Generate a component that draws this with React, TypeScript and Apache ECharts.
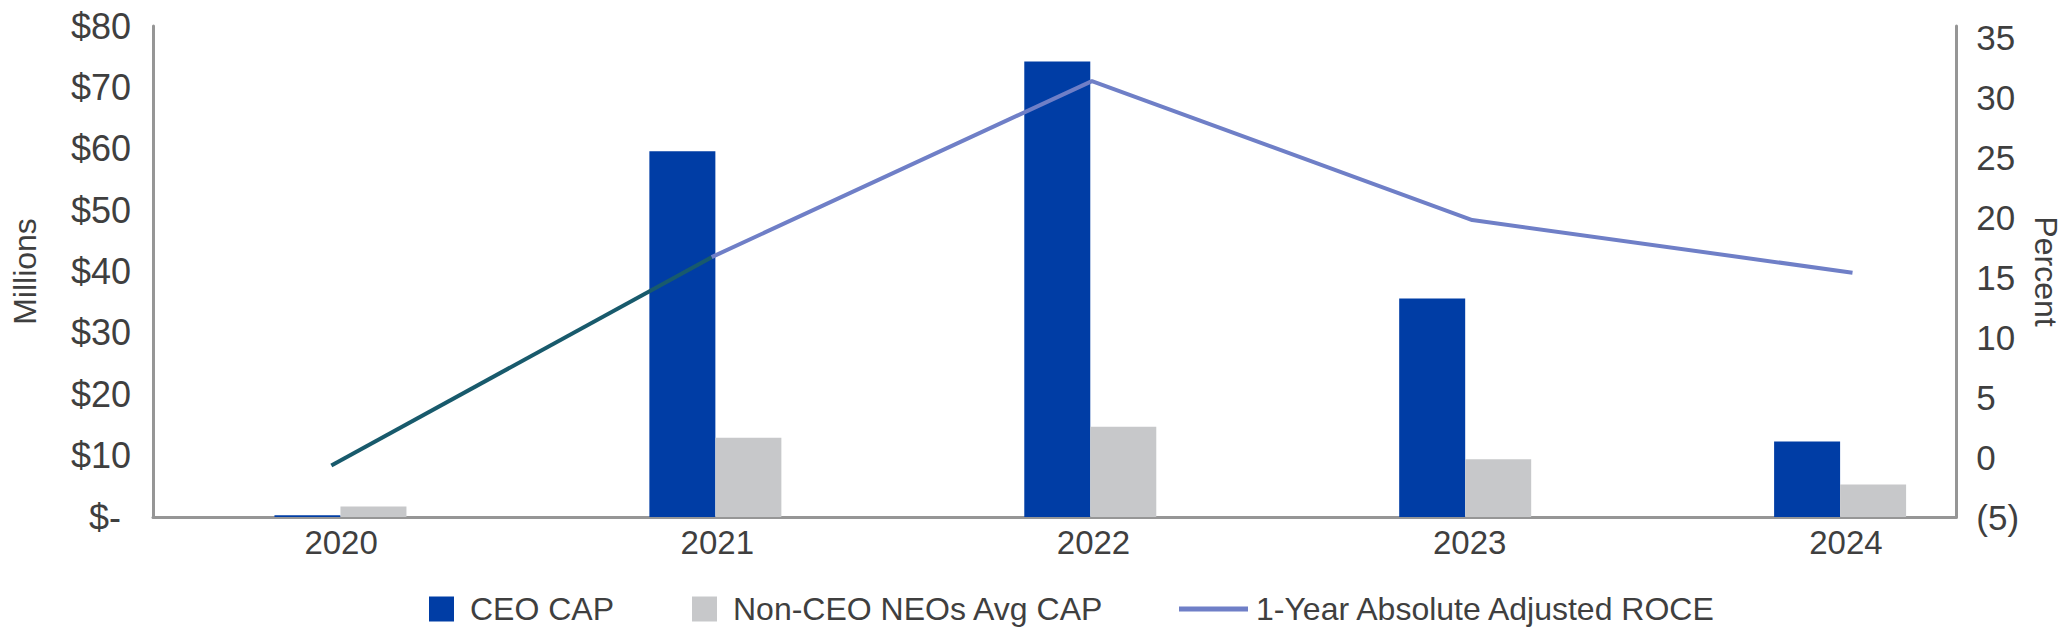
import React, { useEffect, useRef } from "react";
import * as echarts from "echarts";

const years = ["2020", "2021", "2022", "2023", "2024"];
const ceoCap = [0.3, 59.6, 74.2, 35.6, 12.3];
const nonCeoCap = [1.7, 12.9, 14.7, 9.4, 5.3];
const roce = [-0.7, 16.7, 31.4, 19.8, 15.4];

const FONT = "'Liberation Sans', Arial, sans-serif";
const TEXT = "#3f3f3f";
const AXIS = "#969696";
const CEO_COLOR = "#003DA5";
const NEO_COLOR = "#C7C8CA";
const ROCE_COLOR = "#6F7FC7";
const ROCE_EARLY = "#185A6C";

export default function App() {
  const ref = useRef<HTMLDivElement>(null);

  useEffect(() => {
    if (!ref.current) return;
    const chart = echarts.init(ref.current, undefined, { renderer: "svg" });

    const ceoData = ceoCap.map((v, i) => [i, v]);
    const neoData = nonCeoCap.map((v, i) => [i, v]);
    const roceEarly = roce.slice(0, 2).map((v, i) => [i, v]);
    const roceLate = roce.map((v, i) => [i, v]).slice(1);

    const legendText = {
      fontFamily: FONT,
      fontSize: 32,
      color: TEXT,
      lineHeight: 32,
    };

    chart.setOption({
      animation: false,
      backgroundColor: "#ffffff",
      grid: [
        { left: 153, top: 26, width: 1810, height: 491 },
        { left: 153, top: 26, width: 1881, height: 491 },
      ],
      legend: [
        {
          data: ["CEO CAP"],
          left: 429,
          top: 593,
          padding: 0,
          itemWidth: 25,
          itemHeight: 25,
          icon: "rect",
          textStyle: { ...legendText, padding: [0, 0, 0, 11] },
        },
        {
          data: ["Non-CEO NEOs Avg CAP"],
          left: 692,
          top: 593,
          padding: 0,
          itemWidth: 25,
          itemHeight: 25,
          icon: "rect",
          textStyle: { ...legendText, padding: [0, 0, 0, 11] },
        },
        {
          data: ["1-Year Absolute Adjusted ROCE"],
          left: 1179,
          top: 593,
          padding: 0,
          itemWidth: 69,
          itemHeight: 5,
          icon: "rect",
          textStyle: { ...legendText, padding: [0, 0, 0, 3] },
        },
      ],
      xAxis: [
        {
          type: "value",
          gridIndex: 0,
          min: -0.5,
          max: 4.31,
          axisLine: { show: true, onZero: false, lineStyle: { color: AXIS, width: 3 } },
          axisTick: { show: false },
          axisLabel: { show: false },
          splitLine: { show: false },
        },
        {
          type: "category",
          gridIndex: 1,
          data: years,
          boundaryGap: true,
          axisLine: { show: false },
          axisTick: { show: false },
          axisLabel: {
            fontFamily: FONT,
            fontSize: 33,
            color: TEXT,
            margin: 9,
          },
          splitLine: { show: false },
        },
        {
          type: "value",
          gridIndex: 0,
          min: -0.469,
          max: 4.273,
          show: false,
          splitLine: { show: false },
        },
      ],
      yAxis: [
        {
          type: "value",
          gridIndex: 0,
          position: "left",
          min: 0,
          max: 80,
          interval: 10,
          name: "Millions",
          nameLocation: "middle",
          nameGap: 112,
          nameTextStyle: { fontFamily: FONT, fontSize: 32, color: TEXT },
          axisLine: { show: true, onZero: false, lineStyle: { color: AXIS, width: 3 } },
          axisTick: { show: false },
          splitLine: { show: false },
          axisLabel: {
            fontFamily: FONT,
            fontSize: 36,
            color: TEXT,
            margin: 22,
            formatter: (v: number) => (v === 0 ? "$-\u00a0" : "$" + v),
          },
        },
        {
          type: "value",
          gridIndex: 0,
          position: "right",
          min: -5,
          max: 36,
          interval: 5,
          name: "Percent",
          nameLocation: "middle",
          nameGap: 72,
          nameRotate: -90,
          nameTextStyle: { fontFamily: FONT, fontSize: 32, color: TEXT },
          axisLine: { show: true, onZero: false, lineStyle: { color: AXIS, width: 3 } },
          axisTick: { show: false },
          splitLine: { show: false },
          axisLabel: {
            fontFamily: FONT,
            fontSize: 35,
            color: TEXT,
            margin: 20,
            showMaxLabel: false,
            formatter: (v: number) => (v < 0 ? "(" + -v + ")" : String(v)),
          },
        },
        {
          type: "value",
          gridIndex: 1,
          show: false,
          min: 0,
          max: 1,
        },
      ],
      series: [
        {
          name: "CEO CAP",
          type: "bar",
          xAxisIndex: 0,
          yAxisIndex: 0,
          barWidth: 66,
          barGap: "0%",
          itemStyle: { color: CEO_COLOR },
          data: ceoData,
        },
        {
          name: "Non-CEO NEOs Avg CAP",
          type: "bar",
          xAxisIndex: 0,
          yAxisIndex: 0,
          barWidth: 66,
          barGap: "0%",
          itemStyle: { color: NEO_COLOR },
          data: neoData,
        },
        {
          name: "ROCE early",
          type: "line",
          xAxisIndex: 2,
          yAxisIndex: 1,
          symbol: "none",
          lineStyle: { color: ROCE_EARLY, width: 4 },
          itemStyle: { color: ROCE_EARLY },
          data: roceEarly,
          z: 3,
        },
        {
          name: "1-Year Absolute Adjusted ROCE",
          type: "line",
          xAxisIndex: 2,
          yAxisIndex: 1,
          symbol: "none",
          lineStyle: { color: ROCE_COLOR, width: 4 },
          itemStyle: { color: ROCE_COLOR },
          data: roceLate,
          z: 3,
        },
      ],
    });

    return () => chart.dispose();
  }, []);

  return (
    <div
      ref={ref}
      style={{ position: "fixed", left: 0, top: 0, width: 2070, height: 634 }}
    />
  );
}
